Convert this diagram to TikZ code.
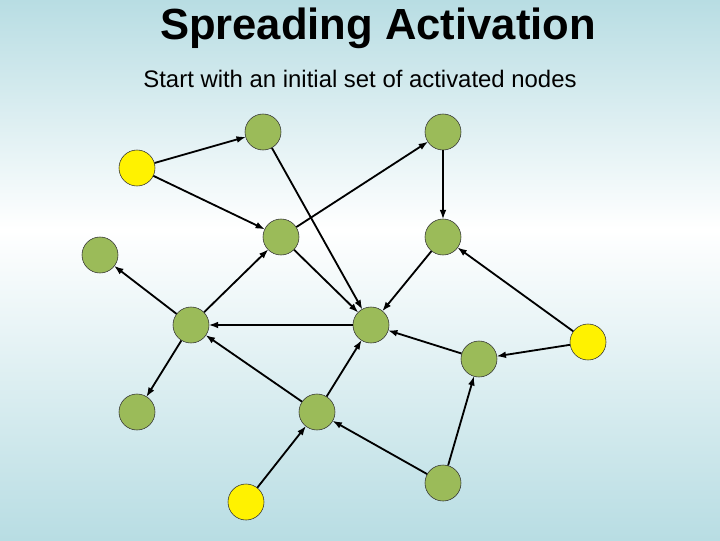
\documentclass[tikz,border=0pt]{standalone}
\usepackage{fontspec}
\setmainfont{Liberation Sans}
\usetikzlibrary{arrows.meta}
\definecolor{bgteal}{RGB}{184,221,227}
\definecolor{nodegreen}{RGB}{155,187,89}
\begin{document}
\begin{tikzpicture}[x=0.025cm,y=-0.025cm,>={Latex[length=2.4mm,width=1.7mm]},
    act/.style={circle,draw=black!80,fill=yellow,minimum size=0.9cm,inner sep=0pt},
    idle/.style={act,fill=nodegreen},
    link/.style={->,line width=1.3pt,shorten >=-0.5pt}]
    \useasboundingbox (0,0) rectangle (720,540);
    % background
    \shade[top color=bgteal,bottom color=white] (0,0) rectangle (720,230);
    \shade[top color=white,bottom color=bgteal] (0,230) rectangle (720,540);
    \node[font=\bfseries\fontsize{31}{36}\selectfont] (title) at (378,28) {Spreading Activation};
    \node[font=\fontsize{17}{20}\selectfont] (sub) at (360,79) {Start with an initial set of activated nodes};
    % nodes
    \node[act]  (a) at (137,168) {};
    \node[idle] (b) at (263,132) {};
    \node[idle] (c) at (443,132) {};
    \node[idle] (d) at (281,237) {};
    \node[idle] (e) at (443,237) {};
    \node[idle] (f) at (100,255) {};
    \node[idle] (g) at (191,325) {};
    \node[idle] (h) at (371,325) {};
    \node[act]  (i) at (588,342) {};
    \node[idle] (j) at (479,359) {};
    \node[idle] (k) at (137,412) {};
    \node[idle] (l) at (317,412) {};
    \node[act]  (m) at (246,502) {};
    \node[idle] (n) at (443,483) {};
    % links
    \draw[link] (a) -- (b);
    \draw[link] (a) -- (d);
    \draw[link] (b) -- (h);
    \draw[link] (d) -- (c);
    \draw[link] (c) -- (e);
    \draw[link] (d) -- (h);
    \draw[link] (e) -- (h);
    \draw[link] (g) -- (d);
    \draw[link] (g) -- (f);
    \draw[link] (h) -- (g);
    \draw[link] (i) -- (e);
    \draw[link] (i) -- (j);
    \draw[link] (j) -- (h);
    \draw[link] (g) -- (k);
    \draw[link] (l) -- (g);
    \draw[link] (l) -- (h);
    \draw[link] (m) -- (l);
    \draw[link] (n) -- (l);
    \draw[link] (n) -- (j);
\end{tikzpicture}
\end{document}
